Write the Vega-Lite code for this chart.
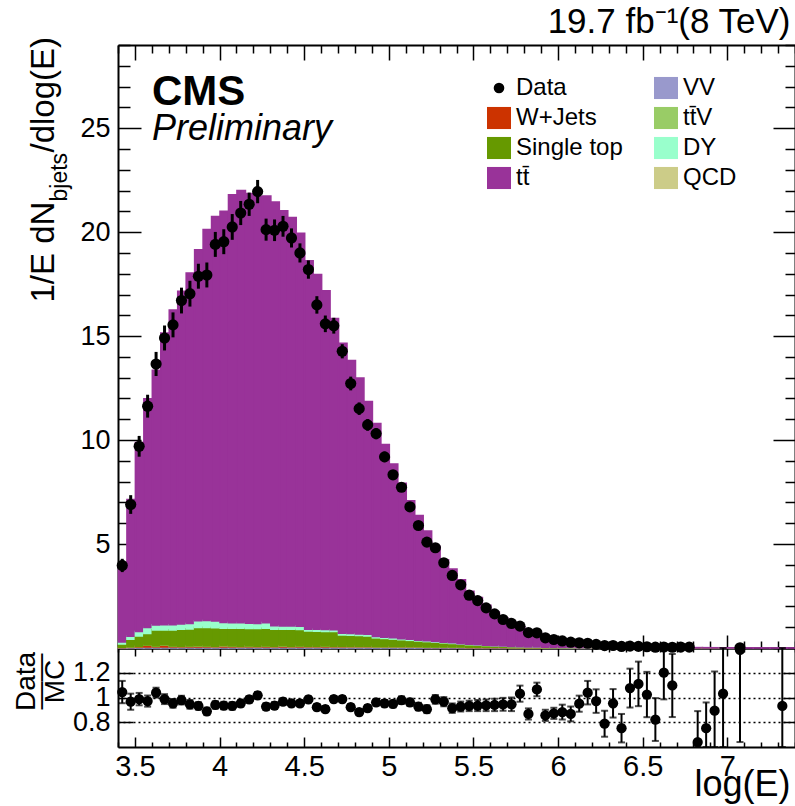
{
 "$schema": "https://vega.github.io/schema/vega-lite/v6.json",
 "autosize": "none",
 "width": 677,
 "height": 702,
 "padding": {"left": 118, "top": 45, "right": 0, "bottom": 59},
 "background": "#ffffff",
 "config": {
  "view": {"stroke": null},
  "font": "Liberation Sans",
  "axis": {"domainColor": "#000000", "domainWidth": 2, "tickColor": "#000000", "tickWidth": 1.5, "labelColor": "#000000", "titleColor": "#000000", "labelFont": "Liberation Sans", "titleFont": "Liberation Sans", "titleFontWeight": "normal", "grid": false, "labelFlush": false, "labelOverlap": false, "labelBound": false}
 },
 "title": {"text": "CMS", "subtitle": "Preliminary", "anchor": "start", "frame": "group", "orient": "top", "offset": 0, "dx": 34, "dy": 144, "font": "Liberation Sans", "fontSize": 42, "fontWeight": "bold", "color": "#000000", "subtitleFont": "Liberation Sans", "subtitleFontSize": 36, "subtitleFontStyle": "italic", "subtitleColor": "#000000", "subtitlePadding": -2},
 "datasets": {
  "mc": [
   {"lo":3.40,"hi":3.45,"v":0.02,"w":0.01,"tv":0.005,"st":0.155,"dy":0.10,"tt":3.56},
   {"lo":3.45,"hi":3.50,"v":0.03,"w":0.02,"tv":0.01,"st":0.36,"dy":0.15,"tt":6.57},
   {"lo":3.50,"hi":3.55,"v":0.04,"w":0.03,"tv":0.015,"st":0.495,"dy":0.21,"tt":9.09},
   {"lo":3.55,"hi":3.60,"v":0.05,"w":0.08,"tv":0.02,"st":0.55,"dy":0.29,"tt":10.99},
   {"lo":3.60,"hi":3.65,"v":0.05,"w":0.03,"tv":0.02,"st":0.77,"dy":0.24,"tt":12.24},
   {"lo":3.65,"hi":3.70,"v":0.05,"w":0.09,"tv":0.02,"st":0.71,"dy":0.25,"tt":14.03},
   {"lo":3.70,"hi":3.75,"v":0.05,"w":0.03,"tv":0.02,"st":0.77,"dy":0.25,"tt":15.13},
   {"lo":3.75,"hi":3.80,"v":0.05,"w":0.02,"tv":0.02,"st":0.81,"dy":0.26,"tt":15.99},
   {"lo":3.80,"hi":3.85,"v":0.05,"w":0.03,"tv":0.02,"st":0.82,"dy":0.26,"tt":16.85},
   {"lo":3.85,"hi":3.90,"v":0.05,"w":0.04,"tv":0.02,"st":0.88,"dy":0.32,"tt":17.84},
   {"lo":3.90,"hi":3.95,"v":0.05,"w":0.03,"tv":0.02,"st":0.89,"dy":0.33,"tt":18.80},
   {"lo":3.95,"hi":4.00,"v":0.05,"w":0.02,"tv":0.02,"st":0.89,"dy":0.32,"tt":19.45},
   {"lo":4.00,"hi":4.05,"v":0.05,"w":0.05,"tv":0.02,"st":0.83,"dy":0.28,"tt":19.77},
   {"lo":4.05,"hi":4.10,"v":0.05,"w":0.03,"tv":0.02,"st":0.85,"dy":0.27,"tt":20.58},
   {"lo":4.10,"hi":4.15,"v":0.05,"w":0.02,"tv":0.02,"st":0.86,"dy":0.27,"tt":20.78},
   {"lo":4.15,"hi":4.20,"v":0.05,"w":0.03,"tv":0.02,"st":0.84,"dy":0.25,"tt":20.66},
   {"lo":4.20,"hi":4.25,"v":0.05,"w":0.02,"tv":0.02,"st":0.85,"dy":0.24,"tt":20.52},
   {"lo":4.25,"hi":4.30,"v":0.05,"w":0.03,"tv":0.02,"st":0.85,"dy":0.27,"tt":20.51},
   {"lo":4.30,"hi":4.35,"v":0.05,"w":0.02,"tv":0.02,"st":0.82,"dy":0.16,"tt":20.38},
   {"lo":4.35,"hi":4.40,"v":0.05,"w":0.04,"tv":0.02,"st":0.80,"dy":0.15,"tt":19.97},
   {"lo":4.40,"hi":4.45,"v":0.05,"w":0.02,"tv":0.02,"st":0.81,"dy":0.16,"tt":19.64},
   {"lo":4.45,"hi":4.50,"v":0.05,"w":0.03,"tv":0.02,"st":0.79,"dy":0.16,"tt":18.90},
   {"lo":4.50,"hi":4.55,"v":0.05,"w":0.02,"tv":0.02,"st":0.73,"dy":0.09,"tt":17.71},
   {"lo":4.55,"hi":4.60,"v":0.05,"w":0.02,"tv":0.02,"st":0.72,"dy":0.09,"tt":17.06},
   {"lo":4.60,"hi":4.65,"v":0.05,"w":0.03,"tv":0.02,"st":0.70,"dy":0.09,"tt":16.29},
   {"lo":4.65,"hi":4.70,"v":0.05,"w":0.02,"tv":0.02,"st":0.70,"dy":0.09,"tt":14.97},
   {"lo":4.70,"hi":4.75,"v":0.05,"w":0.02,"tv":0.02,"st":0.54,"dy":0.08,"tt":13.94},
   {"lo":4.75,"hi":4.80,"v":0.05,"w":0.015,"tv":0.02,"st":0.535,"dy":0.08,"tt":13.12},
   {"lo":4.80,"hi":4.85,"v":0.05,"w":0.015,"tv":0.02,"st":0.515,"dy":0.08,"tt":12.30},
   {"lo":4.85,"hi":4.90,"v":0.05,"w":0.015,"tv":0.02,"st":0.495,"dy":0.08,"tt":11.19},
   {"lo":4.90,"hi":4.95,"v":0.04,"w":0.015,"tv":0.02,"st":0.415,"dy":0.06,"tt":10.25},
   {"lo":4.95,"hi":5.00,"v":0.04,"w":0.015,"tv":0.015,"st":0.39,"dy":0.06,"tt":9.26},
   {"lo":5.00,"hi":5.05,"v":0.04,"w":0.015,"tv":0.015,"st":0.36,"dy":0.06,"tt":8.36},
   {"lo":5.05,"hi":5.10,"v":0.04,"w":0.015,"tv":0.015,"st":0.33,"dy":0.05,"tt":7.47},
   {"lo":5.10,"hi":5.15,"v":0.04,"w":0.015,"tv":0.015,"st":0.30,"dy":0.05,"tt":6.66},
   {"lo":5.15,"hi":5.20,"v":0.04,"w":0.015,"tv":0.015,"st":0.27,"dy":0.04,"tt":5.99},
   {"lo":5.20,"hi":5.25,"v":0.03,"w":0.01,"tv":0.015,"st":0.255,"dy":0.04,"tt":5.27},
   {"lo":5.25,"hi":5.30,"v":0.03,"w":0.01,"tv":0.015,"st":0.225,"dy":0.04,"tt":4.56},
   {"lo":5.30,"hi":5.35,"v":0.03,"w":0.01,"tv":0.015,"st":0.195,"dy":0.03,"tt":3.96},
   {"lo":5.35,"hi":5.40,"v":0.03,"w":0.01,"tv":0.015,"st":0.165,"dy":0.03,"tt":3.55},
   {"lo":5.40,"hi":5.45,"v":0.03,"w":0.01,"tv":0.015,"st":0.135,"dy":0.02,"tt":3.07},
   {"lo":5.45,"hi":5.50,"v":0.02,"w":0.01,"tv":0.01,"st":0.12,"dy":0.02,"tt":2.55},
   {"lo":5.50,"hi":5.55,"v":0.02,"w":0.01,"tv":0.01,"st":0.10,"dy":0.015,"tt":2.275},
   {"lo":5.55,"hi":5.60,"v":0.02,"w":0.01,"tv":0.01,"st":0.08,"dy":0.015,"tt":1.915},
   {"lo":5.60,"hi":5.65,"v":0.02,"w":0.01,"tv":0.01,"st":0.06,"dy":0.015,"tt":1.615},
   {"lo":5.65,"hi":5.70,"v":0.02,"w":0.01,"tv":0.01,"st":0.045,"dy":0.01,"tt":1.345},
   {"lo":5.70,"hi":5.75,"v":0.01,"w":0.005,"tv":0.01,"st":0.045,"dy":0.01,"tt":1.14},
   {"lo":5.75,"hi":5.80,"v":0.01,"w":0.005,"tv":0.01,"st":0.035,"dy":0.008,"tt":0.952},
   {"lo":5.80,"hi":5.85,"v":0.01,"w":0.005,"tv":0.01,"st":0.025,"dy":0.006,"tt":0.794},
   {"lo":5.85,"hi":5.90,"v":0.01,"w":0.005,"tv":0.01,"st":0.015,"dy":0.006,"tt":0.644},
   {"lo":5.90,"hi":5.95,"v":0.01,"w":0.005,"tv":0.01,"st":0.008,"dy":0.005,"tt":0.532},
   {"lo":5.95,"hi":6.00,"v":0.003,"w":0.003,"tv":0.003,"st":0.018,"dy":0.004,"tt":0.439},
   {"lo":6.00,"hi":6.05,"v":0.003,"w":0.003,"tv":0.003,"st":0.013,"dy":0.003,"tt":0.365},
   {"lo":6.05,"hi":6.10,"v":0.003,"w":0.003,"tv":0.003,"st":0.009,"dy":0.003,"tt":0.299},
   {"lo":6.10,"hi":6.15,"v":0.003,"w":0.003,"tv":0.003,"st":0.006,"dy":0.002,"tt":0.248},
   {"lo":6.15,"hi":6.20,"v":0.002,"w":0.002,"tv":0.002,"st":0.006,"dy":0.002,"tt":0.206},
   {"lo":6.20,"hi":6.25,"v":0.002,"w":0.002,"tv":0.002,"st":0.004,"dy":0.002,"tt":0.168},
   {"lo":6.25,"hi":6.30,"v":0.002,"w":0.002,"tv":0.002,"st":0.002,"dy":0.001,"tt":0.141},
   {"lo":6.30,"hi":6.35,"v":0.002,"w":0.002,"tv":0.002,"st":0.001,"dy":0.001,"tt":0.117},
   {"lo":6.35,"hi":6.40,"v":0.002,"w":0.002,"tv":0.002,"st":0.001,"dy":0.001,"tt":0.092},
   {"lo":6.40,"hi":6.45,"v":0.002,"w":0.002,"tv":0.002,"st":0.001,"dy":0.001,"tt":0.077},
   {"lo":6.45,"hi":6.50,"v":0.001,"w":0.001,"tv":0.002,"st":0.001,"dy":0,"tt":0.065},
   {"lo":6.50,"hi":6.55,"v":0.001,"w":0.001,"tv":0.002,"st":0.001,"dy":0,"tt":0.053},
   {"lo":6.55,"hi":6.60,"v":0.001,"w":0.001,"tv":0.001,"st":0.001,"dy":0,"tt":0.044},
   {"lo":6.60,"hi":6.65,"v":0.001,"w":0.001,"tv":0.001,"st":0.001,"dy":0,"tt":0.036},
   {"lo":6.65,"hi":6.70,"v":0.001,"w":0.001,"tv":0.001,"st":0.001,"dy":0,"tt":0.029},
   {"lo":6.70,"hi":6.75,"v":0.001,"w":0,"tv":0.001,"st":0.001,"dy":0,"tt":0.024},
   {"lo":6.75,"hi":6.80,"v":0.001,"w":0,"tv":0.001,"st":0.001,"dy":0,"tt":0.019},
   {"lo":6.80,"hi":6.85,"v":0,"w":0,"tv":0.001,"st":0.001,"dy":0,"tt":0.016},
   {"lo":6.85,"hi":6.90,"v":0,"w":0,"tv":0.001,"st":0.001,"dy":0,"tt":0.013},
   {"lo":6.90,"hi":6.95,"v":0,"w":0,"tv":0.001,"st":0.001,"dy":0,"tt":0.010},
   {"lo":6.95,"hi":7.00,"v":0,"w":0,"tv":0.001,"st":0,"dy":0,"tt":0.009},
   {"lo":7.00,"hi":7.05,"v":0,"w":0,"tv":0.001,"st":0,"dy":0,"tt":0.007},
   {"lo":7.05,"hi":7.10,"v":0,"w":0,"tv":0.001,"st":0,"dy":0,"tt":0.0055},
   {"lo":7.10,"hi":7.15,"v":0,"w":0,"tv":0,"st":0,"dy":0,"tt":0.005},
   {"lo":7.15,"hi":7.20,"v":0,"w":0,"tv":0,"st":0,"dy":0,"tt":0.004},
   {"lo":7.20,"hi":7.25,"v":0,"w":0,"tv":0,"st":0,"dy":0,"tt":0.0033},
   {"lo":7.25,"hi":7.30,"v":0,"w":0,"tv":0,"st":0,"dy":0,"tt":0.0027},
   {"lo":7.30,"hi":7.35,"v":0,"w":0,"tv":0,"st":0,"dy":0,"tt":0.0022},
   {"lo":7.35,"hi":7.40,"v":0,"w":0,"tv":0,"st":0,"dy":0,"tt":0.0018}
  ],
  "pts": [
   {"x":3.425,"y":3.97,"e":0.32},{"x":3.475,"y":6.90,"e":0.45},{"x":3.525,"y":9.70,"e":0.50},{"x":3.575,"y":11.63,"e":0.55},
   {"x":3.625,"y":13.66,"e":0.58},{"x":3.675,"y":14.91,"e":0.60},{"x":3.725,"y":15.54,"e":0.60},{"x":3.775,"y":16.71,"e":0.62},
   {"x":3.825,"y":17.04,"e":0.62},{"x":3.875,"y":17.88,"e":0.60},{"x":3.925,"y":17.94,"e":0.60},{"x":3.975,"y":19.41,"e":0.60},
   {"x":4.025,"y":19.54,"e":0.60},{"x":4.075,"y":20.25,"e":0.62},{"x":4.125,"y":20.92,"e":0.58},{"x":4.175,"y":21.34,"e":0.56},
   {"x":4.225,"y":21.95,"e":0.56},{"x":4.275,"y":20.12,"e":0.53},{"x":4.325,"y":20.09,"e":0.52},{"x":4.375,"y":20.28,"e":0.50},
   {"x":4.425,"y":19.72,"e":0.46},{"x":4.475,"y":19.00,"e":0.46},{"x":4.525,"y":18.20,"e":0.44},{"x":4.575,"y":16.50,"e":0.42},
   {"x":4.625,"y":15.59,"e":0.40},{"x":4.675,"y":15.50,"e":0.38},{"x":4.725,"y":14.27,"e":0.34},{"x":4.775,"y":12.72,"e":0.33},
   {"x":4.825,"y":11.51,"e":0.30},{"x":4.875,"y":10.73,"e":0.28},{"x":4.925,"y":10.31,"e":0.27},{"x":4.975,"y":9.19,"e":0.25},
   {"x":5.025,"y":8.33,"e":0.23},{"x":5.075,"y":7.73,"e":0.22},{"x":5.125,"y":6.79,"e":0.20},{"x":5.175,"y":5.89,"e":0.18},
   {"x":5.225,"y":5.09,"e":0.17},{"x":5.275,"y":4.82,"e":0.16},{"x":5.325,"y":4.10,"e":0.15},{"x":5.375,"y":3.49,"e":0.14},
   {"x":5.425,"y":3.04,"e":0.13},{"x":5.475,"y":2.54,"e":0.12},{"x":5.525,"y":2.28,"e":0.11},{"x":5.575,"y":1.93,"e":0.10},
   {"x":5.625,"y":1.64,"e":0.09},{"x":5.675,"y":1.37,"e":0.08},{"x":5.725,"y":1.18,"e":0.08},{"x":5.775,"y":1.05,"e":0.07},
   {"x":5.825,"y":0.74,"e":0.06},{"x":5.875,"y":0.73,"e":0.05},{"x":5.925,"y":0.49,"e":0.05},{"x":5.975,"y":0.41,"e":0.04},
   {"x":6.025,"y":0.34,"e":0.04},{"x":6.075,"y":0.28,"e":0.03},{"x":6.125,"y":0.25,"e":0.03},{"x":6.175,"y":0.23,"e":0.03},
   {"x":6.225,"y":0.175,"e":0.02},{"x":6.275,"y":0.118,"e":0.02},{"x":6.325,"y":0.119,"e":0.02},{"x":6.375,"y":0.075,"e":0.01},
   {"x":6.425,"y":0.091,"e":0.01},{"x":6.475,"y":0.078,"e":0.01},{"x":6.525,"y":0.059,"e":0.01},{"x":6.575,"y":0.039,"e":0.01},
   {"x":6.625,"y":0.048,"e":0.01},{"x":6.675,"y":0.036,"e":0.01},{"x":6.725,"y":0.045,"e":0.01},{"x":6.775,"y":0.040,"e":0.01},
   {"x":7.075,"y":0.009,"e":0.005}
  ],
  "rat": [
   {"x":3.425,"r":1.044,"lo":0.954,"hi":1.134},{"x":3.475,"r":0.966,"lo":0.901,"hi":1.031},{"x":3.525,"r":0.987,"lo":0.937,"hi":1.037},
   {"x":3.575,"r":0.971,"lo":0.926,"hi":1.016},{"x":3.625,"r":1.039,"lo":0.999,"hi":1.079},{"x":3.675,"r":0.987,"lo":0.947,"hi":1.027},
   {"x":3.725,"r":0.953,"lo":0.918,"hi":0.988},{"x":3.775,"r":0.979,"lo":0.944,"hi":1.014},{"x":3.825,"r":0.945,"lo":0.91,"hi":0.98},
   {"x":3.875,"r":0.932,"lo":0.902,"hi":0.962},{"x":3.925,"r":0.888,"lo":0.858,"hi":0.918},{"x":3.975,"r":0.940,"lo":0.91,"hi":0.97},
   {"x":4.025,"r":0.935,"lo":0.905,"hi":0.965},{"x":4.075,"r":0.932,"lo":0.902,"hi":0.962},{"x":4.125,"r":0.953,"lo":0.925,"hi":0.981},
   {"x":4.175,"r":0.984,"lo":0.957,"hi":1.011},{"x":4.225,"r":1.018,"lo":0.991,"hi":1.045},{"x":4.275,"r":0.927,"lo":0.9,"hi":0.954},
   {"x":4.325,"r":0.935,"lo":0.908,"hi":0.962},{"x":4.375,"r":0.966,"lo":0.939,"hi":0.993},{"x":4.425,"r":0.953,"lo":0.928,"hi":0.978},
   {"x":4.475,"r":0.953,"lo":0.928,"hi":0.978},{"x":4.525,"r":0.984,"lo":0.959,"hi":1.009},{"x":4.575,"r":0.922,"lo":0.897,"hi":0.947},
   {"x":4.625,"r":0.906,"lo":0.881,"hi":0.931},{"x":4.675,"r":0.987,"lo":0.962,"hi":1.012},{"x":4.725,"r":0.987,"lo":0.962,"hi":1.012},
   {"x":4.775,"r":0.922,"lo":0.897,"hi":0.947},{"x":4.825,"r":0.882,"lo":0.857,"hi":0.907},{"x":4.875,"r":0.914,"lo":0.889,"hi":0.939},
   {"x":4.925,"r":0.961,"lo":0.934,"hi":0.988},{"x":4.975,"r":0.953,"lo":0.926,"hi":0.98},{"x":5.025,"r":0.948,"lo":0.92,"hi":0.976},
   {"x":5.075,"r":0.979,"lo":0.949,"hi":1.009},{"x":5.125,"r":0.961,"lo":0.931,"hi":0.991},{"x":5.175,"r":0.927,"lo":0.897,"hi":0.957},
   {"x":5.225,"r":0.906,"lo":0.874,"hi":0.938},{"x":5.275,"r":0.985,"lo":0.95,"hi":1.02},{"x":5.325,"r":0.966,"lo":0.929,"hi":1.003},
   {"x":5.375,"r":0.914,"lo":0.876,"hi":0.952},{"x":5.425,"r":0.927,"lo":0.887,"hi":0.967},{"x":5.475,"r":0.932,"lo":0.89,"hi":0.974},
   {"x":5.525,"r":0.935,"lo":0.89,"hi":0.98},{"x":5.575,"r":0.937,"lo":0.89,"hi":0.984},{"x":5.625,"r":0.94,"lo":0.89,"hi":0.99},
   {"x":5.675,"r":0.945,"lo":0.893,"hi":0.997},{"x":5.725,"r":0.945,"lo":0.89,"hi":1.0},{"x":5.775,"r":1.031,"lo":0.966,"hi":1.096},
   {"x":5.825,"r":0.867,"lo":0.822,"hi":0.912},{"x":5.875,"r":1.065,"lo":1.01,"hi":1.12},{"x":5.925,"r":0.856,"lo":0.811,"hi":0.901},
   {"x":5.975,"r":0.872,"lo":0.827,"hi":0.917},{"x":6.025,"r":0.882,"lo":0.822,"hi":0.942},{"x":6.075,"r":0.867,"lo":0.807,"hi":0.927},
   {"x":6.125,"r":0.95,"lo":0.885,"hi":1.015},{"x":6.175,"r":1.039,"lo":0.944,"hi":1.134},{"x":6.225,"r":0.971,"lo":0.876,"hi":1.066},
   {"x":6.275,"r":0.788,"lo":0.683,"hi":0.893},{"x":6.325,"r":0.953,"lo":0.838,"hi":1.068},{"x":6.375,"r":0.752,"lo":0.637,"hi":0.867},
   {"x":6.425,"r":1.076,"lo":0.919,"hi":1.233},{"x":6.475,"r":1.11,"lo":0.93,"hi":1.29},{"x":6.525,"r":1.024,"lo":0.841,"hi":1.207},
   {"x":6.575,"r":0.822,"lo":0.649,"hi":0.995},{"x":6.625,"r":1.201,"lo":0.985,"hi":1.4},{"x":6.675,"r":1.097,"lo":0.842,"hi":1.352},
   {"x":6.825,"r":0.64,"lo":0.6,"hi":0.89},{"x":6.875,"r":0.752,"lo":0.6,"hi":0.96},{"x":6.925,"r":0.893,"lo":0.6,"hi":1.21},
   {"x":6.975,"r":1.031,"lo":0.6,"hi":1.4},{"x":7.075,"r":1.384,"lo":0.64,"hi":1.4},{"x":7.325,"r":0.932,"lo":0.6,"hi":1.4}
  ]
 },
 "layer": [
  {
   "data": {"name": "mc"},
   "transform": [
    {"fold": ["v","w","tv","st","dy","tt"], "as": ["k","val"]},
    {"filter": "datum.val > 0"},
    {"calculate": "{'v':'VV','w':'W+Jets','tv':'tt\u0304V','st':'Single top','dy':'DY','tt':'tt\u0304'}[datum.k]", "as": "proc"},
    {"calculate": "indexof(['v','w','tv','st','dy','tt'], datum.k)", "as": "ord"}
   ],
   "mark": {"type": "bar", "binSpacing": 0, "strokeWidth": 1.6},
   "encoding": {
    "x": {"field": "lo", "type": "quantitative", "bin": "binned", "scale": {"domain": [3.4, 7.4], "nice": false, "zero": false},
     "axis": {"orient": "bottom", "offset": -99, "title": null, "labels": false, "values": [3.4,3.5,3.6,3.7,3.8,3.9,4,4.1,4.2,4.3,4.4,4.5,4.6,4.7,4.8,4.9,5,5.1,5.2,5.3,5.4,5.5,5.6,5.7,5.8,5.9,6,6.1,6.2,6.3,6.4,6.5,6.6,6.7,6.8,6.9,7,7.1,7.2,7.3,7.4],
      "tickSize": {"condition": {"test": "abs(datum.value*2 - round(datum.value*2)) < 0.001", "value": -13}, "value": -7}}},
    "x2": {"field": "hi"},
    "y": {"field": "val", "type": "quantitative", "stack": "zero", "scale": {"domain": [0, 29], "range": [603, 0], "nice": false},
     "axis": {"orient": "left", "values": [0,1,2,3,4,5,6,7,8,9,10,11,12,13,14,15,16,17,18,19,20,21,22,23,24,25,26,27,28,29],
      "tickSize": {"condition": {"test": "datum.value % 5 === 0", "value": -23}, "value": -12},
      "labelExpr": "datum.value % 5 === 0 && datum.value > 0 ? datum.label : ''", "labelFontSize": 27, "labelPadding": 31,
      "title": "1/E dN", "titleFontSize": 33, "titleAngle": -90, "titleAlign": "left", "titleBaseline": "alphabetic", "titleX": -65, "titleY": 257}},
    "color": {"field": "proc", "type": "nominal",
     "scale": {"domain": ["Data","W+Jets","Single top","tt\u0304","VV","tt\u0304V","DY","QCD"], "range": ["#000000","#cc3300","#669900","#993399","#9999cc","#99cc66","#99ffcc","#cccc88"]},
     "legend": {"orient": "none", "legendX": 369, "legendY": 31, "title": null, "columns": 2, "columnPadding": 31, "rowPadding": 6,
      "symbolType": "M-1,-0.92H1V0.92H-1Z", "symbolSize": 576, "symbolStrokeWidth": 0, "labelFontSize": 24, "labelFont": "Liberation Sans", "labelOffset": 5, "labelColor": "#000000", "labelLimit": 300,
      "encode": {"symbols": {"update": {"shape": {"signal": "datum.value === 'Data' ? 'circle' : 'M-1,-0.92H1V0.92H-1Z'"}, "size": {"signal": "datum.value === 'Data' ? 113 : 576"}, "opacity": {"value": 1}}}}}},
    "stroke": {"field": "proc", "type": "nominal",
     "scale": {"domain": ["Data","W+Jets","Single top","tt\u0304","VV","tt\u0304V","DY","QCD"], "range": ["#000000","#cc3300","#669900","#993399","#9999cc","#99cc66","#99ffcc","#cccc88"]},
     "legend": null},
    "order": {"field": "ord", "type": "quantitative"}
   }
  },
  {
   "data": {"name": "pts"},
   "mark": {"type": "errorbar", "thickness": 3, "color": "#000000", "ticks": false},
   "encoding": {
    "x": {"field": "x", "type": "quantitative", "scale": {"domain": [3.4, 7.4], "nice": false, "zero": false}, "axis": null},
    "y": {"field": "y", "type": "quantitative", "scale": {"domain": [0, 29], "range": [603, 0], "nice": false},
     "axis": {"orient": "left", "ticks": false, "labels": false, "domain": false, "grid": false, "title": "bjets", "titleFontSize": 23, "titleAngle": -90, "titleAlign": "left", "titleBaseline": "alphabetic", "titleX": -52, "titleY": 156}},
    "yError": {"field": "e"}
   }
  },
  {
   "data": {"name": "pts"},
   "mark": {"type": "point", "filled": true, "size": 125, "color": "#000000", "opacity": 1},
   "encoding": {
    "x": {"field": "x", "type": "quantitative", "scale": {"domain": [3.4, 7.4], "nice": false, "zero": false},
     "axis": {"orient": "top", "labels": false, "values": [3.4,3.5,3.6,3.7,3.8,3.9,4,4.1,4.2,4.3,4.4,4.5,4.6,4.7,4.8,4.9,5,5.1,5.2,5.3,5.4,5.5,5.6,5.7,5.8,5.9,6,6.1,6.2,6.3,6.4,6.5,6.6,6.7,6.8,6.9,7,7.1,7.2,7.3,7.4],
      "tickSize": {"condition": {"test": "abs(datum.value*2 - round(datum.value*2)) < 0.001", "value": -15}, "value": -8},
      "title": "19.7 fb\u207B\u00B9(8 TeV)", "titleFontSize": 35, "titleAlign": "right", "titleBaseline": "alphabetic", "titleX": 672, "titleY": -13}},
    "y": {"field": "y", "type": "quantitative", "scale": {"domain": [0, 29], "range": [603, 0], "nice": false},
     "axis": {"orient": "right", "labels": false, "values": [0,1,2,3,4,5,6,7,8,9,10,11,12,13,14,15,16,17,18,19,20,21,22,23,24,25,26,27,28,29],
      "tickSize": {"condition": {"test": "datum.value % 5 === 0", "value": -22}, "value": -10},
      "title": "/dlog(E)", "titleFontSize": 33, "titleAngle": -90, "titleAlign": "left", "titleBaseline": "alphabetic", "titleX": -742, "titleY": 107}}
   }
  },
  {
   "data": {"name": "rat"},
   "mark": {"type": "errorbar", "thickness": 2, "color": "#000000", "ticks": {"size": 7, "thickness": 2}},
   "encoding": {
    "x": {"field": "x", "type": "quantitative", "scale": {"domain": [3.4, 7.4], "nice": false, "zero": false},
     "axis": {"orient": "bottom", "values": [3.4,3.5,3.6,3.7,3.8,3.9,4,4.1,4.2,4.3,4.4,4.5,4.6,4.7,4.8,4.9,5,5.1,5.2,5.3,5.4,5.5,5.6,5.7,5.8,5.9,6,6.1,6.2,6.3,6.4,6.5,6.6,6.7,6.8,6.9,7,7.1,7.2,7.3,7.4],
      "tickSize": {"condition": {"test": "abs(datum.value*2 - round(datum.value*2)) < 0.001", "value": -10}, "value": -5},
      "labelExpr": "abs(datum.value*2 - round(datum.value*2)) < 0.001 ? format(datum.value, '') : ''", "labelFontSize": 29, "labelPadding": 15,
      "title": "log(E)", "titleFontSize": 36, "titleAlign": "right", "titleBaseline": "alphabetic", "titleX": 672, "titleY": 48}},
    "y": {"field": "lo", "type": "quantitative", "scale": {"domain": [0.6, 1.4], "range": [702, 603], "nice": false, "zero": false},
     "axis": {"orient": "left", "values": [0.8, 1, 1.2], "tickSize": -15, "labelExpr": "format(datum.value, '')", "labelFontSize": 27, "labelPadding": 23,
      "grid": true, "gridDash": [2, 3], "gridColor": "#000000", "gridWidth": 1.5,
      "title": ["Data", "MC"], "titleFontSize": 28, "titleAngle": -90, "titleAlign": "center", "titleBaseline": "alphabetic", "titleLineHeight": 29, "titleX": -84, "titleY": 636}},
    "y2": {"field": "hi"}
   }
  },
  {
   "data": {"name": "rat"},
   "mark": {"type": "point", "filled": true, "size": 105, "color": "#000000", "opacity": 1},
   "encoding": {
    "x": {"field": "x", "type": "quantitative", "scale": {"domain": [3.4, 7.4], "nice": false, "zero": false},
     "axis": {"orient": "top", "offset": -603, "labels": false, "title": null, "values": [3.4,3.5,3.6,3.7,3.8,3.9,4,4.1,4.2,4.3,4.4,4.5,4.6,4.7,4.8,4.9,5,5.1,5.2,5.3,5.4,5.5,5.6,5.7,5.8,5.9,6,6.1,6.2,6.3,6.4,6.5,6.6,6.7,6.8,6.9,7,7.1,7.2,7.3,7.4],
      "tickSize": {"condition": {"test": "abs(datum.value*2 - round(datum.value*2)) < 0.001", "value": -8}, "value": -4}}},
    "y": {"field": "r", "type": "quantitative", "scale": {"domain": [0.6, 1.4], "range": [702, 603], "nice": false, "zero": false},
     "axis": {"orient": "right", "values": [0.8, 1, 1.2], "tickSize": -12, "labels": false,
      "title": "\u2014\u2014", "titleFontSize": 28, "titleAngle": -90, "titleAlign": "center", "titleBaseline": "alphabetic", "titleX": -747, "titleY": 636}}
   }
  }
 ],
 "resolve": {"scale": {"x": "independent", "y": "independent"}, "axis": {"x": "independent", "y": "independent"}}
}
